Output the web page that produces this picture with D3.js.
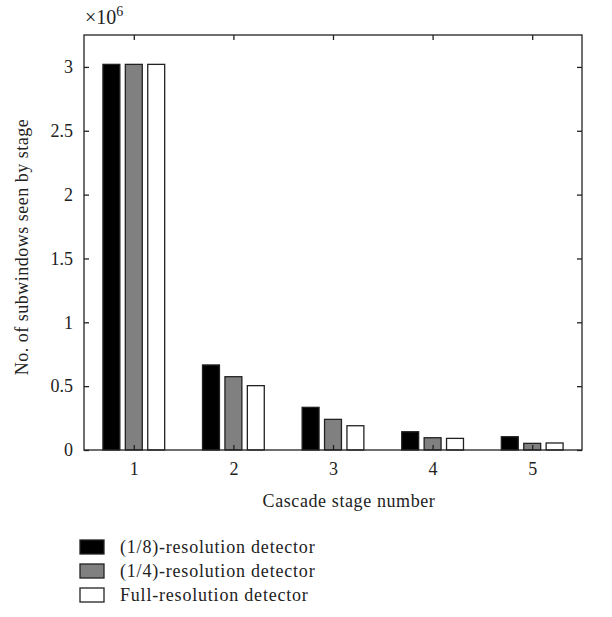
<html>
<head>
<script src="https://d3js.org/d3.v7.min.js"></script>
<style>
  body { margin: 0; background: white; }
  text { font-family: "Liberation Serif", serif; fill: #222; }
</style>
</head>
<body>
<svg width="612" height="617"></svg>
<script>
var stages = [1, 2, 3, 4, 5];
var series = ["(1/8)-resolution detector", "(1/4)-resolution detector", "Full-resolution detector"];
var eighth = [3.02, 0.666, 0.334, 0.143, 0.104];
var quarter = [3.02, 0.574, 0.24, 0.096, 0.052];
var full = [3.02, 0.504, 0.19, 0.091, 0.055];
var colors = ["#000000", "#808080", "#ffffff"];
var yTicks = [0, 0.5, 1, 1.5, 2, 2.5, 3];

var values = [eighth, quarter, full];
var mLeft = 84, mRight = 582, mTop = 35, mBottom = 450;
var svg = d3.select("svg");

var x = d3.scaleLinear().domain([0.5, 5.5]).range([mLeft, mRight]);
var y = d3.scaleLinear().domain([0, 3.25]).range([mBottom, mTop]);
var off = d3.scaleLinear().domain([0, 2]).range([-0.225, 0.225]);
var barW = x(0.17) - x(0);

// bars
values.forEach(function(vals, s) {
  svg.append("g").selectAll("rect").data(vals).enter()
    .append("rect")
    .attr("x", function(d, i) { return x(stages[i] + off(s)) - barW / 2; })
    .attr("y", function(d) { return y(d); })
    .attr("width", barW)
    .attr("height", function(d) { return mBottom - y(d); })
    .attr("fill", colors[s])
    .attr("stroke", "#222")
    .attr("stroke-width", 1.3);
});

// axes, ticks inward
var fs = "18px";
var gl = svg.append("g").attr("transform", "translate(" + mLeft + ",0)")
  .call(d3.axisLeft(y).tickValues(yTicks).tickSize(-5).tickPadding(11).tickFormat(d3.format("")));
var gr = svg.append("g").attr("transform", "translate(" + mRight + ",0)")
  .call(d3.axisRight(y).tickValues(yTicks).tickSize(-5).tickFormat(""));
var gb = svg.append("g").attr("transform", "translate(0," + mBottom + ")")
  .call(d3.axisBottom(x).tickValues(stages).tickSize(-5).tickPadding(12).tickFormat(d3.format("d")));
var gt = svg.append("g").attr("transform", "translate(0," + mTop + ")")
  .call(d3.axisTop(x).tickValues(stages).tickSize(-5).tickFormat(""));
[gl, gr, gb, gt].forEach(function(g) {
  g.select(".domain").remove();
  g.selectAll("line").attr("stroke", "#222").attr("stroke-width", 1.3);
  g.selectAll("text").style("font-family", "Liberation Serif, serif").style("font-size", fs).attr("fill", "#222");
});
svg.append("rect").attr("x", mLeft).attr("y", mTop).attr("width", mRight - mLeft).attr("height", mBottom - mTop)
  .attr("fill", "none").attr("stroke", "#222").attr("stroke-width", 1.3);

// labels
svg.append("text").attr("x", 85).attr("y", 24).style("font-size", "20px")
  .html("&#215;10<tspan dy='-8' style='font-size:14px'>6</tspan>");
svg.append("text").attr("transform", "translate(28,247) rotate(-90)").attr("text-anchor", "middle")
  .style("font-size", fs).style("letter-spacing", "0.5px").text("No. of subwindows seen by stage");
svg.append("text").attr("x", 349).attr("y", 507).attr("text-anchor", "middle")
  .style("font-size", fs).style("letter-spacing", "0.6px").text("Cascade stage number");

// legend
var lg = svg.append("g").selectAll("g").data(series).enter().append("g")
  .attr("transform", function(d, i) { return "translate(80," + (540 + i * 24) + ")"; });
lg.append("rect").attr("width", 24).attr("height", 14)
  .attr("fill", function(d, i) { return colors[i]; }).attr("stroke", "#222").attr("stroke-width", 1.3);
lg.append("text").attr("x", 40).attr("y", 13).style("font-size", fs).style("letter-spacing", "0.8px")
  .text(function(d) { return d; });
</script>
</body>
</html>
